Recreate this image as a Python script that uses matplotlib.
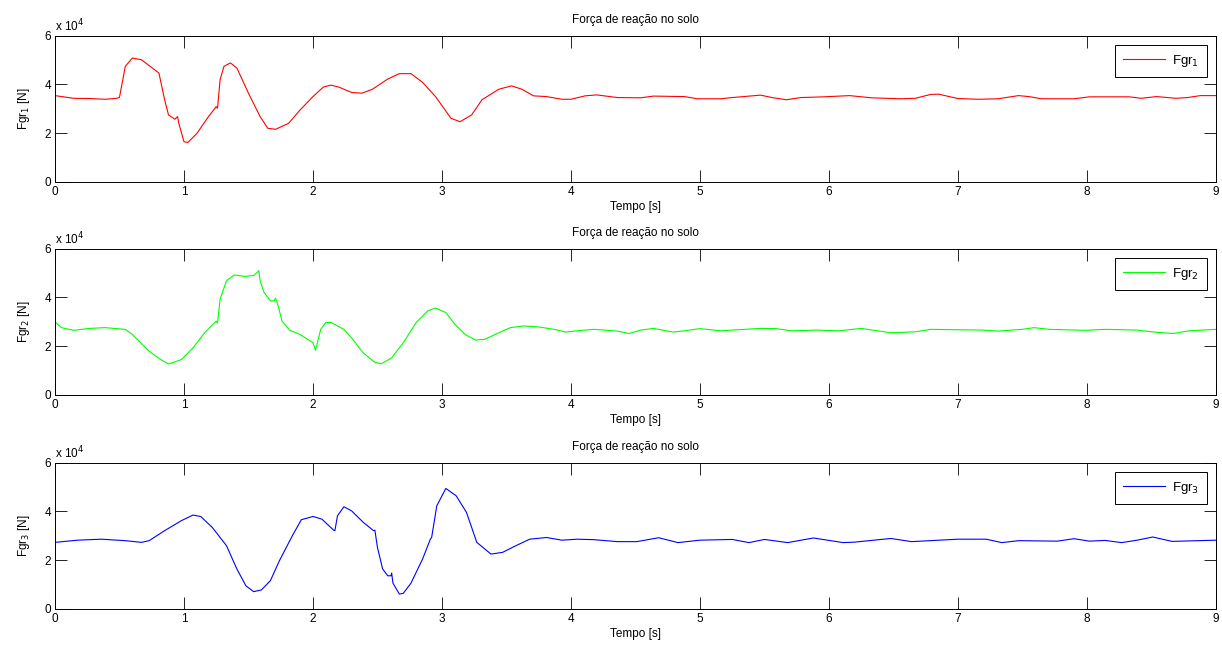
import matplotlib
matplotlib.use("Agg")
import matplotlib.pyplot as plt
import numpy as np

plt.rcParams['font.family'] = ['Liberation Sans Narrow', 'Liberation Sans', 'DejaVu Sans']
plt.rcParams['mathtext.fontset'] = 'custom'
plt.rcParams['mathtext.rm'] = 'Liberation Sans Narrow'

# ---- data (values in units of 1e4 N) ----
t1 = [0, 0.145, 0.27, 0.39, 0.48, 0.5, 0.545, 0.6, 0.67, 0.79, 0.806, 0.85, 0.88, 0.93, 0.95, 0.96,
      1.0, 1.03, 1.10, 1.19, 1.25, 1.26, 1.28, 1.31, 1.36, 1.41, 1.50, 1.59, 1.65, 1.71, 1.81, 1.9,
      2.0, 2.08, 2.14, 2.2, 2.3, 2.38, 2.46, 2.58, 2.67, 2.76, 2.85, 2.95, 3.07, 3.14, 3.23, 3.31,
      3.44, 3.54, 3.62, 3.71, 3.81, 3.93, 4.0, 4.11, 4.2, 4.36, 4.54, 4.64, 4.88, 4.98, 5.16,
      5.25, 5.47, 5.56, 5.67, 5.78, 5.96, 6.16, 6.33, 6.56, 6.67, 6.79, 6.85, 7.0, 7.16, 7.31, 7.47,
      7.55, 7.65, 7.9, 8.02, 8.33, 8.42, 8.54, 8.69, 8.78, 8.88, 9.0]
f1 = [3.54, 3.43, 3.42, 3.39, 3.43, 3.47, 4.74, 5.08, 5.01, 4.53, 4.46, 3.37, 2.75, 2.57, 2.68, 2.40,
      1.65, 1.62, 1.99, 2.68, 3.09, 3.02, 4.19, 4.74, 4.88, 4.67, 3.64, 2.68, 2.20, 2.16, 2.40, 2.95,
      3.50, 3.89, 3.97, 3.89, 3.67, 3.64, 3.80, 4.22, 4.44, 4.44, 4.08, 3.50, 2.61, 2.47, 2.75, 3.37,
      3.80, 3.94, 3.80, 3.53, 3.50, 3.39, 3.39, 3.53, 3.57, 3.46, 3.45, 3.52, 3.50, 3.41, 3.41,
      3.46, 3.56, 3.46, 3.37, 3.46, 3.49, 3.54, 3.45, 3.41, 3.43, 3.59, 3.60, 3.42, 3.39, 3.41, 3.54,
      3.50, 3.41, 3.41, 3.49, 3.49, 3.43, 3.50, 3.43, 3.46, 3.54, 3.54]

t2 = [0, 0.05, 0.145, 0.27, 0.39, 0.545, 0.6, 0.73, 0.82, 0.88, 0.98, 1.07, 1.16, 1.25, 1.26, 1.28,
      1.33, 1.39, 1.47, 1.54, 1.57, 1.58, 1.59, 1.62, 1.67, 1.70, 1.71, 1.73, 1.76, 1.82, 1.9, 2.0,
      2.02, 2.06, 2.1, 2.14, 2.24, 2.3, 2.39, 2.48, 2.53, 2.61, 2.70, 2.80, 2.89, 2.95, 3.03, 3.1,
      3.18, 3.26, 3.33, 3.44, 3.53, 3.63, 3.75, 3.87, 3.96, 4.08, 4.18, 4.36, 4.45, 4.54, 4.64,
      4.79, 4.88, 5.0, 5.16, 5.25, 5.47, 5.59, 5.71, 5.9, 6.08, 6.25, 6.39, 6.48, 6.67, 6.79, 7.19,
      7.31, 7.5, 7.59, 7.71, 7.99, 8.14, 8.39, 8.54, 8.67, 8.79, 9.0]
f2 = [2.99, 2.76, 2.65, 2.73, 2.76, 2.69, 2.48, 1.79, 1.45, 1.27, 1.45, 1.93, 2.55, 3.03, 2.94, 3.93,
      4.69, 4.92, 4.86, 4.90, 5.03, 5.10, 4.69, 4.21, 3.86, 3.86, 3.97, 3.66, 3.03, 2.65, 2.48, 2.14,
      1.83, 2.69, 2.97, 2.97, 2.69, 2.34, 1.72, 1.34, 1.28, 1.52, 2.14, 2.97, 3.45, 3.56, 3.38, 2.90,
      2.48, 2.25, 2.28, 2.55, 2.76, 2.83, 2.79, 2.69, 2.58, 2.65, 2.69, 2.62, 2.52, 2.66, 2.73,
      2.58, 2.63, 2.72, 2.63, 2.66, 2.73, 2.72, 2.63, 2.66, 2.63, 2.73, 2.62, 2.55, 2.59, 2.69, 2.66,
      2.62, 2.69, 2.76, 2.69, 2.65, 2.69, 2.66, 2.57, 2.52, 2.63, 2.69]

t3 = [0, 0.175, 0.36, 0.545, 0.67, 0.73, 0.85, 0.98, 1.07, 1.13, 1.22, 1.33, 1.41, 1.48, 1.54, 1.6,
      1.67, 1.74, 1.84, 1.91, 2.0, 2.07, 2.16, 2.17, 2.19, 2.24, 2.30, 2.39, 2.47, 2.48, 2.50, 2.54,
      2.58, 2.605, 2.61, 2.62, 2.67, 2.70, 2.76, 2.85, 2.91, 2.92, 2.96, 3.03, 3.11, 3.19, 3.27,
      3.38, 3.47, 3.56, 3.68, 3.81, 3.93, 4.05, 4.18, 4.36, 4.51, 4.68, 4.83, 5.0, 5.25, 5.38,
      5.5, 5.68, 5.88, 6.11, 6.2, 6.48, 6.64, 7.0, 7.22, 7.34, 7.47, 7.77, 7.9, 8.02, 8.14, 8.27,
      8.39, 8.51, 8.66, 9.0]
f3 = [2.73, 2.82, 2.86, 2.80, 2.73, 2.80, 3.21, 3.62, 3.85, 3.79, 3.34, 2.59, 1.64, 0.95, 0.71, 0.78,
      1.16, 1.98, 3.00, 3.66, 3.79, 3.68, 3.23, 3.21, 3.82, 4.19, 4.02, 3.55, 3.21, 3.23, 2.52, 1.64,
      1.36, 1.36, 1.47, 1.06, 0.61, 0.64, 1.06, 2.05, 2.86, 2.93, 4.23, 4.94, 4.64, 3.96, 2.73,
      2.25, 2.32, 2.56, 2.86, 2.93, 2.82, 2.86, 2.84, 2.76, 2.76, 2.92, 2.72, 2.82, 2.85, 2.72,
      2.85, 2.72, 2.91, 2.72, 2.74, 2.89, 2.76, 2.86, 2.86, 2.72, 2.80, 2.78, 2.88, 2.78, 2.81, 2.72,
      2.82, 2.95, 2.77, 2.82]

series = [(t1, f1, '#ff0000', r'Fgr$_1$', r'Fgr$_1$ [N]'),
          (t2, f2, '#00ff00', r'Fgr$_2$', r'Fgr$_2$ [N]'),
          (t3, f3, '#0000ff', r'Fgr$_3$', r'Fgr$_3$ [N]')]

title = 'Força de reação no solo'
xlabel = 'Tempo [s]'
xticks = [0, 1, 2, 3, 4, 5, 6, 7, 8, 9]
yticks = [0, 2, 4, 6]

fig = plt.figure(figsize=(12.22, 6.52), dpi=100)
bottoms = [0.7209, 0.3942, 0.0660]
fs = 8.5
for (t, f, c, lab, ylab), b in zip(series, bottoms):
    ax = fig.add_axes([0.045, b, 0.950, 0.2245])
    ax.plot(t, f, color=c, lw=0.8, label=lab)
    ax.set_xlim(0, 9)
    ax.set_ylim(0, 6)
    ax.set_xticks(xticks)
    ax.set_yticks(yticks)
    ax.tick_params(direction='in', length=8.4, width=0.6, top=True, right=True,
                   labelsize=fs, pad=3)
    for s in ax.spines.values():
        s.set_linewidth(0.7)
    ax.set_title(title, fontsize=fs, pad=9)
    ax.set_xlabel(xlabel, fontsize=fs, labelpad=2)
    ax.set_ylabel(ylab, fontsize=fs, labelpad=9)
    ax.text(0.0, 1.01, r'x 10$^{4}$', transform=ax.transAxes, fontsize=fs,
            ha='left', va='bottom')
    leg = ax.legend(loc='upper right', fontsize=9.5, handlelength=3.2, handletextpad=0.5,
                    fancybox=False, framealpha=1, edgecolor='black',
                    borderpad=0.6, borderaxespad=0.7)
    leg.get_frame().set_linewidth(0.7)

fig.savefig('out.png', dpi=100)
